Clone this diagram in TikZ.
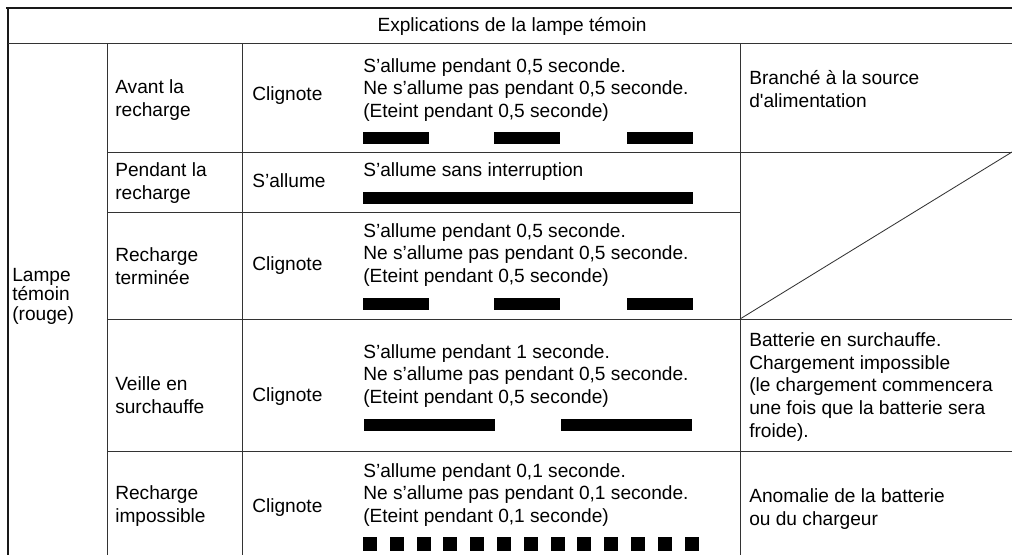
\documentclass[tikz,border=0pt]{standalone}
\usepackage{fontspec}
\setmainfont{Liberation Sans}
\usepackage{tikz}

\begin{document}
\begin{tikzpicture}[x=0.025cm, y=-0.025cm,
    cell/.style={anchor=west, align=left, inner sep=0pt, font=\fontsize{13.6}{16.3}\selectfont},
    lampcell/.style={cell, font=\fontsize{13.6}{13.8}\selectfont},
    grid/.style={black!80, line width=0.6pt},
    frame/.style={black!90, line width=1.8pt}]
    \useasboundingbox (0,0) rectangle (1012,555);

    % frame
    \draw[frame] (6,8) -- (1012,8);
    \draw[frame] (8,8) -- (8,555);

    % rows
    \draw[grid] (8,43) -- (1012,43);
    \draw[grid] (107,152) -- (1012,152);
    \draw[grid] (107,212) -- (740,212);
    \draw[grid] (107,319) -- (1012,319);
    \draw[grid] (107,451) -- (1012,451);

    % columns
    \draw[grid] (107,43) -- (107,555);
    \draw[grid] (242,43) -- (242,555);
    \draw[grid] (740,43) -- (740,555);
    \draw[grid] (740,319) -- (1012,152); % empty cell

    % Header
    \node[cell, anchor=center] (titre) at (512,26) {Explications de la lampe témoin};
    \node[lampcell] (lampe) at (12,296) {Lampe\\témoin\\(rouge)};

    % Etat
    \node[cell] (avant) at (115,100) {Avant la\\recharge};
    \node[cell] (pendant) at (115,183) {Pendant la\\recharge};
    \node[cell] (terminee) at (115,266) {Recharge\\terminée};
    \node[cell] (veille) at (115,395) {Veille en\\surchauffe};
    \node[cell] (impossible) at (115,506) {Recharge\\impossible};

    % Mode
    \node[cell] (modeA) at (252,96) {Clignote};
    \node[cell] (modeB) at (252,181) {S'allume};
    \node[cell] (modeC) at (252,266) {Clignote};
    \node[cell] (modeD) at (252,397) {Clignote};
    \node[cell] (modeE) at (252,508) {Clignote};

    % Description
    \node[cell] (descA) at (363,90) {S'allume pendant 0,5 seconde.\\Ne s'allume pas pendant 0,5 seconde.\\(Eteint pendant 0,5 seconde)};
    \node[cell] (descB) at (363,172) {S'allume sans interruption};
    \node[cell] (descC) at (363,255) {S'allume pendant 0,5 seconde.\\Ne s'allume pas pendant 0,5 seconde.\\(Eteint pendant 0,5 seconde)};
    \node[cell] (descD) at (363,376) {S'allume pendant 1 seconde.\\Ne s'allume pas pendant 0,5 seconde.\\(Eteint pendant 0,5 seconde)};
    \node[cell] (descE) at (363,495) {S'allume pendant 0,1 seconde.\\Ne s'allume pas pendant 0,1 seconde.\\(Eteint pendant 0,1 seconde)};

    % Signification
    \node[cell] (sensA) at (749,89) {Branché à la source\\d\textquotesingle alimentation};
    \node[cell] (sensD) at (749,387) {Batterie en surchauffe.\\Chargement impossible\\(le chargement commencera\\une fois que la batterie sera\\froide).};
    \node[cell] (sensE) at (749,509) {Anomalie de la batterie\\ou du chargeur};

    % Bars
    \foreach \x in {363,494,627} {
        \fill (\x,132) rectangle ++(66,12);
        \fill (\x,298) rectangle ++(66,12);
    }
    \fill (363,192) rectangle (693,204);
    \foreach \x in {364,561} \fill (\x,419) rectangle ++(131,12);
    \foreach \i in {0,...,12} \fill ({363+26.8*\i},537) rectangle ++(14,14);

\end{tikzpicture}
\end{document}
